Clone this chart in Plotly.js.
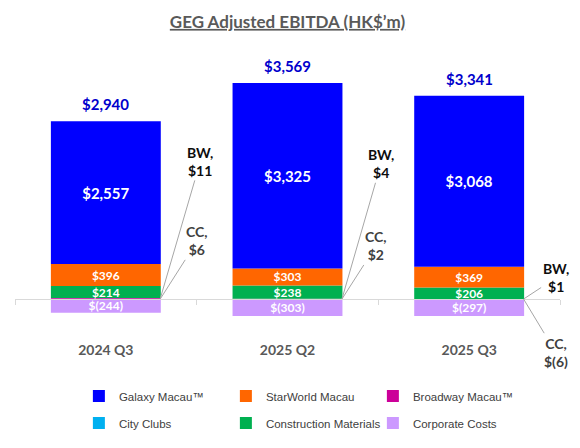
<!DOCTYPE html>
<html>
<head>
<meta charset="utf-8">
<script src="https://cdn.plot.ly/plotly-3.0.1.min.js"></script>
<style>html,body{margin:0;padding:0;background:#fff;}#chart{width:580px;height:448px;}</style>
</head>
<body>
<div id="chart"></div>
<script>
const categories = ['2024 Q3', '2025 Q2', '2025 Q3'];
const galaxy = [2557, 3325, 3068];
const starworld = [396, 303, 369];
const broadway = [11, 4, 1];
const cityClubs = [6, 2, -6];
const construction = [214, 238, 206];
const corporate = [-244, -303, -297];
const totals = [2940, 3569, 3341];
const bwTag = 'BW';
const ccTag = 'CC';

function fmt(v) {
  const s = Math.abs(v).toLocaleString('en-US');
  return v < 0 ? '$(' + s + ')' : '$' + s;
}

const LATO = 'Lato, "Open Sans", sans-serif';
const yRange = [-824, 4462];
const zeroFrac = (0 - yRange[0]) / (yRange[1] - yRange[0]);

function barTrace(name, vals, color, rank, legendId, opts) {
  return Object.assign({
    type: 'bar', name: name, x: categories, y: vals,
    marker: {color: color, line: {width: 0}},
    legendrank: rank, legend: legendId,
    hoverinfo: 'skip'
  }, opts || {});
}

const innerFont = (size) => ({family: LATO, size: size, color: '#FFFFFF', weight: 'bold'});

const traces = [
  barTrace('City Clubs', cityClubs, '#00B0F0', 4, 'legend2'),
  barTrace('Broadway Macau™', broadway, '#CC0099', 3, 'legend'),
  barTrace('Construction Materials', construction, '#00B050', 5, 'legend2', {
    text: construction.map(v => '<b>' + fmt(v) + '</b>'), textposition: 'inside', insidetextanchor: 'middle',
    textfont: innerFont(12), constraintext: 'none'}),
  barTrace('StarWorld Macau', starworld, '#FF6600', 2, 'legend', {
    text: starworld.map(v => '<b>' + fmt(v) + '</b>'), textposition: 'inside', insidetextanchor: 'middle',
    textfont: innerFont(12), constraintext: 'none'}),
  barTrace('Galaxy Macau™', galaxy, '#0000FF', 1, 'legend', {
    text: galaxy.map(v => '<b>' + fmt(v) + '</b>'), textposition: 'inside', insidetextanchor: 'middle',
    textfont: innerFont(15), constraintext: 'none'}),
  barTrace('Corporate Costs', corporate, '#CC99FF', 6, 'legend2', {
    text: corporate.map(v => '<b>' + fmt(v) + '</b>'), textposition: 'inside', insidetextanchor: 'middle',
    textfont: innerFont(12), constraintext: 'none'})
];

const annotations = [];
// totals above bars
categories.forEach((c, i) => {
  const top = Math.max(0, cityClubs[i]) + broadway[i] + construction[i] + starworld[i] + galaxy[i];
  annotations.push({
    x: c, y: top, xref: 'x', yref: 'y', yanchor: 'bottom', yshift: 6,
    text: '<b>' + fmt(totals[i]) + '</b>', showarrow: false,
    font: {family: LATO, size: 15, color: '#0000CC'}
  });
});
// callouts for Broadway (BW) and City Clubs (CC)
const bwOffsets = [[40, -137], [39, -135], [32, -21]];
const ccOffsets = [[37, -58], [34, -53], [32, 53]];
categories.forEach((c, i) => {
  const edge = i + 0.3;
  const ccMid = cityClubs[i] / 2;
  const bwMid = Math.max(0, cityClubs[i]) + broadway[i] / 2;
  annotations.push({
    x: edge, y: bwMid, xref: 'x', yref: 'y',
    text: '<b>' + bwTag + ',<br>' + fmt(broadway[i]) + '</b>',
    showarrow: true, arrowhead: 0, arrowwidth: 1, arrowcolor: '#A6A6A6', standoff: 0,
    ax: bwOffsets[i][0], ay: bwOffsets[i][1],
    font: {family: LATO, size: 14, color: '#0D0D0D'}
  });
  annotations.push({
    x: edge, y: ccMid, xref: 'x', yref: 'y',
    text: '<b>' + ccTag + ',<br>' + fmt(cityClubs[i]) + '</b>',
    showarrow: true, arrowhead: 0, arrowwidth: 1, arrowcolor: '#A6A6A6', standoff: 0,
    ax: ccOffsets[i][0], ay: ccOffsets[i][1],
    font: {family: LATO, size: 14, color: '#404040'}
  });
});

const legendCommon = {
  orientation: 'h', xanchor: 'left', yanchor: 'middle', xref: 'container', yref: 'container',
  entrywidth: 102, entrywidthmode: 'pixels', traceorder: 'normal',
  font: {family: '"Liberation Sans", Arial, sans-serif', size: 11.5, color: '#404040'},
  bgcolor: 'rgba(0,0,0,0)'
};

const layout = {
  width: 580, height: 448,
  margin: {l: 15, r: 20, t: 50, b: 103, autoexpand: false},
  paper_bgcolor: '#FFFFFF', plot_bgcolor: '#FFFFFF',
  title: {
    text: '<b><u>GEG Adjusted EBITDA (HK$’m)</u></b>',
    x: 0.5, xref: 'paper', xanchor: 'center', y: 0.951, yref: 'container', yanchor: 'middle',
    font: {family: LATO, size: 17, color: '#595959'}
  },
  barmode: 'relative', bargap: 0.395,
  xaxis: {
    type: 'category', range: [-0.5, categories.length - 0.5], autorange: false,
    anchor: 'free', position: zeroFrac,
    showline: true, linecolor: '#D9D9D9', linewidth: 1,
    ticks: 'outside', tickson: 'boundaries', ticklen: 5, tickcolor: '#D9D9D9',
    ticklabelstandoff: 38,
    tickfont: {family: LATO, size: 14, color: '#595959', weight: 'bold'},
    showgrid: false, zeroline: false, fixedrange: true
  },
  yaxis: {
    range: yRange, autorange: false, showticklabels: false, showgrid: false, zeroline: false,
    showline: false, ticks: '', fixedrange: true
  },
  showlegend: true,
  legend: Object.assign({}, legendCommon, {x: 0.136, y: 1 - 396 / 448}),
  legend2: Object.assign({}, legendCommon, {x: 0.136, y: 1 - 423 / 448}),
  annotations: annotations
};

Plotly.newPlot('chart', traces, layout, {displayModeBar: false, staticPlot: true});
</script>
</body>
</html>
